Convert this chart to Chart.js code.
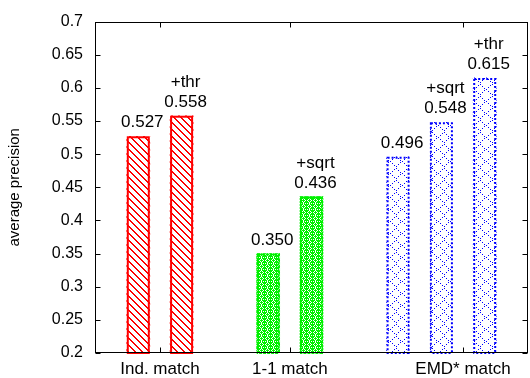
<!DOCTYPE html>
<html>
<head>
<meta charset="utf-8">
<script src="https://cdn.jsdelivr.net/npm/chart.js@4"></script>
<style>
  body { margin: 0; background: #fff; }
  canvas { display: block; }
</style>
</head>
<body>
<canvas id="precisionChart" width="530" height="378"></canvas>
<script>
// data
const groupNames = ["Ind. match", "1-1 match", "EMD* match"];
const groupTickPos = [1.5, 4.5, 8.5];

const indPos = [1, 2];
const indValues = [0.527, 0.558];
const indTags = ["", "+thr"];

const oneOnePos = [4, 5];
const oneOneValues = [0.350, 0.436];
const oneOneTags = ["", "+sqrt"];

const emdPos = [7, 8, 9];
const emdValues = [0.496, 0.548, 0.615];
const emdTags = ["", "+sqrt", "+thr"];

const yMin = 0.2, yMax = 0.7, yStep = 0.05;

const FONT = "'Liberation Sans', Arial, Helvetica, sans-serif";

function makePattern(size, rows, color) {
  const c = document.createElement("canvas");
  c.width = size; c.height = size;
  const g = c.getContext("2d");
  g.fillStyle = "#fff";
  g.fillRect(0, 0, size, size);
  g.fillStyle = color;
  rows.forEach(function (row, y) {
    for (let x = 0; x < row.length; x++) {
      if (row[x] === "#") g.fillRect(x, y, 1, 1);
    }
  });
  return g.createPattern(c, "repeat");
}

const redHatch = makePattern(7, [
  "##.....",
  ".##....",
  "..##...",
  "...##..",
  "....##.",
  ".....##",
  "#.....#"
], "#ff0000");

const greenMesh = makePattern(6, [
  "###.##",
  "##.#.#",
  "#.###.",
  "##.#.#",
  "###.##",
  "#.#.#."
], "#00f000");

const blueDots = makePattern(12, [
  "#...........",
  "..........#.",
  "..#.........",
  "........#...",
  "....#.......",
  "......#.....",
  "....#.......",
  "........#...",
  "..#.........",
  "..........#.",
  "#...........",
  "............"
], "#0000ff");

function points(pos, vals) {
  return pos.map(function (x, i) { return { x: x, y: vals[i] }; });
}

// outlines, value labels, frame and inward ticks
const gnuplotLook = {
  id: "gnuplotLook",
  afterDatasetsDraw: function (chart) {
    const ctx = chart.ctx;
    chart.data.datasets.forEach(function (ds, di) {
      const meta = chart.getDatasetMeta(di);
      meta.data.forEach(function (bar, i) {
        const p = bar.getProps(["x", "y", "width", "base"], true);
        ctx.save();
        ctx.strokeStyle = ds.outlineColor;
        ctx.lineWidth = 2;
        ctx.setLineDash(ds.outlineDash);
        ctx.strokeRect(p.x - p.width / 2 + 1, p.y + 1, p.width - 2, p.base - p.y - 1);
        ctx.restore();

        ctx.save();
        ctx.fillStyle = "#000";
        ctx.font = "17px " + FONT;
        ctx.textAlign = "center";
        ctx.textBaseline = "alphabetic";
        ctx.fillText(ds.data[i].y.toFixed(3), p.x + 4, p.y - 9);
        if (ds.tags[i]) ctx.fillText(ds.tags[i], p.x + 4, p.y - 29);
        ctx.restore();
      });
    });
  },
  afterDraw: function (chart) {
    const ctx = chart.ctx;
    const a = chart.chartArea;
    const L = Math.round(a.left) + 0.5, R = Math.round(a.right) - 0.5;
    const T = Math.round(a.top) + 0.5, B = Math.round(a.bottom) - 0.5;
    ctx.save();
    ctx.strokeStyle = "#000";
    ctx.lineWidth = 1;
    ctx.strokeRect(L, T, R - L, B - T);
    ctx.beginPath();
    chart.scales.y.ticks.forEach(function (t) {
      const y = Math.round(chart.scales.y.getPixelForValue(t.value)) + 0.5;
      ctx.moveTo(L, y); ctx.lineTo(L + 5, y);
      ctx.moveTo(R, y); ctx.lineTo(R - 5, y);
    });
    chart.scales.x.ticks.forEach(function (t) {
      const x = Math.round(chart.scales.x.getPixelForValue(t.value)) + 0.5;
      ctx.moveTo(x, B); ctx.lineTo(x, B - 5);
      ctx.moveTo(x, T); ctx.lineTo(x, T + 5);
    });
    ctx.stroke();
    ctx.restore();
  }
};

new Chart(document.getElementById("precisionChart").getContext("2d"), {
  type: "bar",
  data: {
    datasets: [
      {
        data: points(indPos, indValues),
        tags: indTags,
        backgroundColor: redHatch,
        outlineColor: "#ff0000",
        outlineDash: []
      },
      {
        data: points(oneOnePos, oneOneValues),
        tags: oneOneTags,
        backgroundColor: greenMesh,
        outlineColor: "#00f000",
        outlineDash: [3, 1]
      },
      {
        data: points(emdPos, emdValues),
        tags: emdTags,
        backgroundColor: blueDots,
        outlineColor: "#0000ff",
        outlineDash: [2, 2]
      }
    ]
  },
  options: {
    responsive: false,
    animation: false,
    grouped: false,
    base: yMin,
    barThickness: 23,
    borderWidth: 0,
    layout: { padding: { top: 15, right: 2, left: 0, bottom: 0 } },
    plugins: {
      legend: { display: false },
      tooltip: { enabled: false }
    },
    scales: {
      x: {
        type: "linear",
        min: 0,
        max: 10,
        offset: false,
        grid: { display: false, drawTicks: false },
        border: { display: false },
        afterBuildTicks: function (scale) {
          scale.ticks = groupTickPos.map(function (v) { return { value: v }; });
        },
        afterFit: function (scale) { scale.height = 25; },
        ticks: {
          autoSkip: false,
          maxRotation: 0,
          padding: 6,
          color: "#000",
          font: { family: FONT, size: 17 },
          callback: function (value, index) { return groupNames[index]; }
        }
      },
      y: {
        min: yMin,
        max: yMax,
        grid: { display: false, drawTicks: false },
        border: { display: false },
        afterFit: function (scale) { scale.width = 95; },
        ticks: {
          stepSize: yStep,
          padding: 12,
          color: "#000",
          font: { family: FONT, size: 16 },
          callback: function (v) { return String(Number(v.toFixed(2))); }
        },
        title: {
          display: true,
          text: "average precision",
          color: "#000",
          font: { family: FONT, size: 15 },
          padding: { top: 6, bottom: 0 }
        }
      }
    }
  },
  plugins: [gnuplotLook]
});
</script>
</body>
</html>
